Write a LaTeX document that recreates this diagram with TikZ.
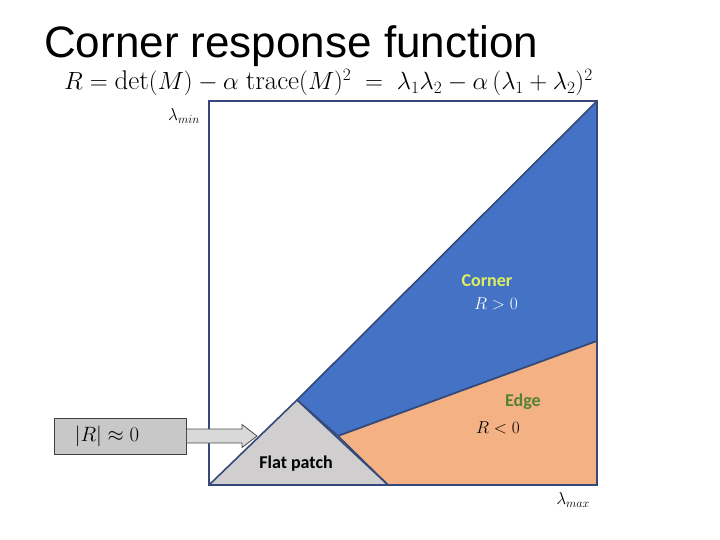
\documentclass[tikz,border=0pt]{standalone}
\usepackage{amsmath,amssymb}
\usepackage{fontspec}
\newfontfamily\arialfont{Liberation Sans}
\newfontfamily\calibrifont{Carlito}
\usepackage{xcolor}
\usepackage{tikz}
\usetikzlibrary{arrows.meta,positioning,calc}

\definecolor{cornerblue}{HTML}{4472C4}
\definecolor{edgeorange}{HTML}{F4B183}
\definecolor{flatgray}{HTML}{D0CECE}
\definecolor{edgeline}{HTML}{34497A}
\definecolor{cornertext}{HTML}{DFEF5F}
\definecolor{edgetext}{HTML}{548235}
\definecolor{boxgray}{HTML}{C8C8C8}
\definecolor{arrowgray}{HTML}{D9D9D9}

\begin{document}
\begin{tikzpicture}[x=1pt,y=-1pt,>=Latex, every node/.style={inner sep=0pt}]
\tikzstyle{region}=[draw=edgeline, line width=1.6pt, line join=round]
\tikzstyle{frame}=[draw=edgeline, line width=1.6pt]
\tikzstyle{tag}=[font=\calibrifont\bfseries\fontsize{18}{21}\selectfont]
\tikzstyle{sign}=[font=\fontsize{18}{21}\selectfont]
\tikzstyle{axis}=[font=\fontsize{17}{20}\selectfont]
\useasboundingbox (0,0) rectangle (720,540);
% corners of the plot and of the regions
\coordinate (O) at (209,485);
\coordinate (TL) at (209,101);
\coordinate (TR) at (597,101);
\coordinate (BR) at (597,485);
\coordinate (apex) at (297,400);
\coordinate (flatend) at (388,485);
\coordinate (split) at (338,436);
\coordinate (edgeend) at (597,341);
\filldraw[region, fill=cornerblue] (apex) -- (TR) -- (edgeend) -- (split) -- cycle;
\filldraw[region, fill=edgeorange] (split) -- (edgeend) -- (BR) -- (flatend) -- cycle;
\filldraw[region, fill=flatgray] (O) -- (apex) -- (flatend) -- cycle;
\draw[frame] (TL) rectangle (BR);
% texts
\node[anchor=base west, font=\arialfont\fontsize{44}{50}\selectfont] (title) at (44,58) {Corner response function};
\node[anchor=base west, font=\fontsize{27}{30}\selectfont] (formula) at (64,90)
  {$R=\det(M)-\alpha\;\mathrm{trace}(M)^2\;=\;\lambda_1\lambda_2-\alpha\,(\lambda_1+\lambda_2)^2$};
\node[axis] (lmin) at (184,116) {$\lambda_{min}$};
\node[axis] (lmax) at (573,500) {$\lambda_{max}$};
\node[tag, text=cornertext] (corner) at (487,281) {Corner};
\node[sign, text=white] (rpos) at (496,304) {$R>0$};
\node[tag, text=edgetext] (edge) at (523,402) {Edge};
\node[sign] (rneg) at (498,428) {$R<0$};
\node[tag] (flat) at (296,464) {Flat patch};
\node[draw=black!75, fill=boxgray, line width=0.8pt, minimum width=132pt, minimum height=36pt,
  font=\fontsize{21}{24}\selectfont] (rbox) at (120,436) {\hspace*{-26pt}$|R|\approx 0$};
% block arrow from the box to the flat patch
\coordinate (tip) at (257,436);
\filldraw[draw=black!70, fill=arrowgray, line width=0.8pt, line join=miter]
  ($(rbox.east)+(0,-7)$) -- ($(tip)+(-15,-7)$) -- ($(tip)+(-15,-11.5)$) -- (tip)
  -- ($(tip)+(-15,11.5)$) -- ($(tip)+(-15,7)$) -- ($(rbox.east)+(0,7)$) -- cycle;
\end{tikzpicture}
\end{document}
